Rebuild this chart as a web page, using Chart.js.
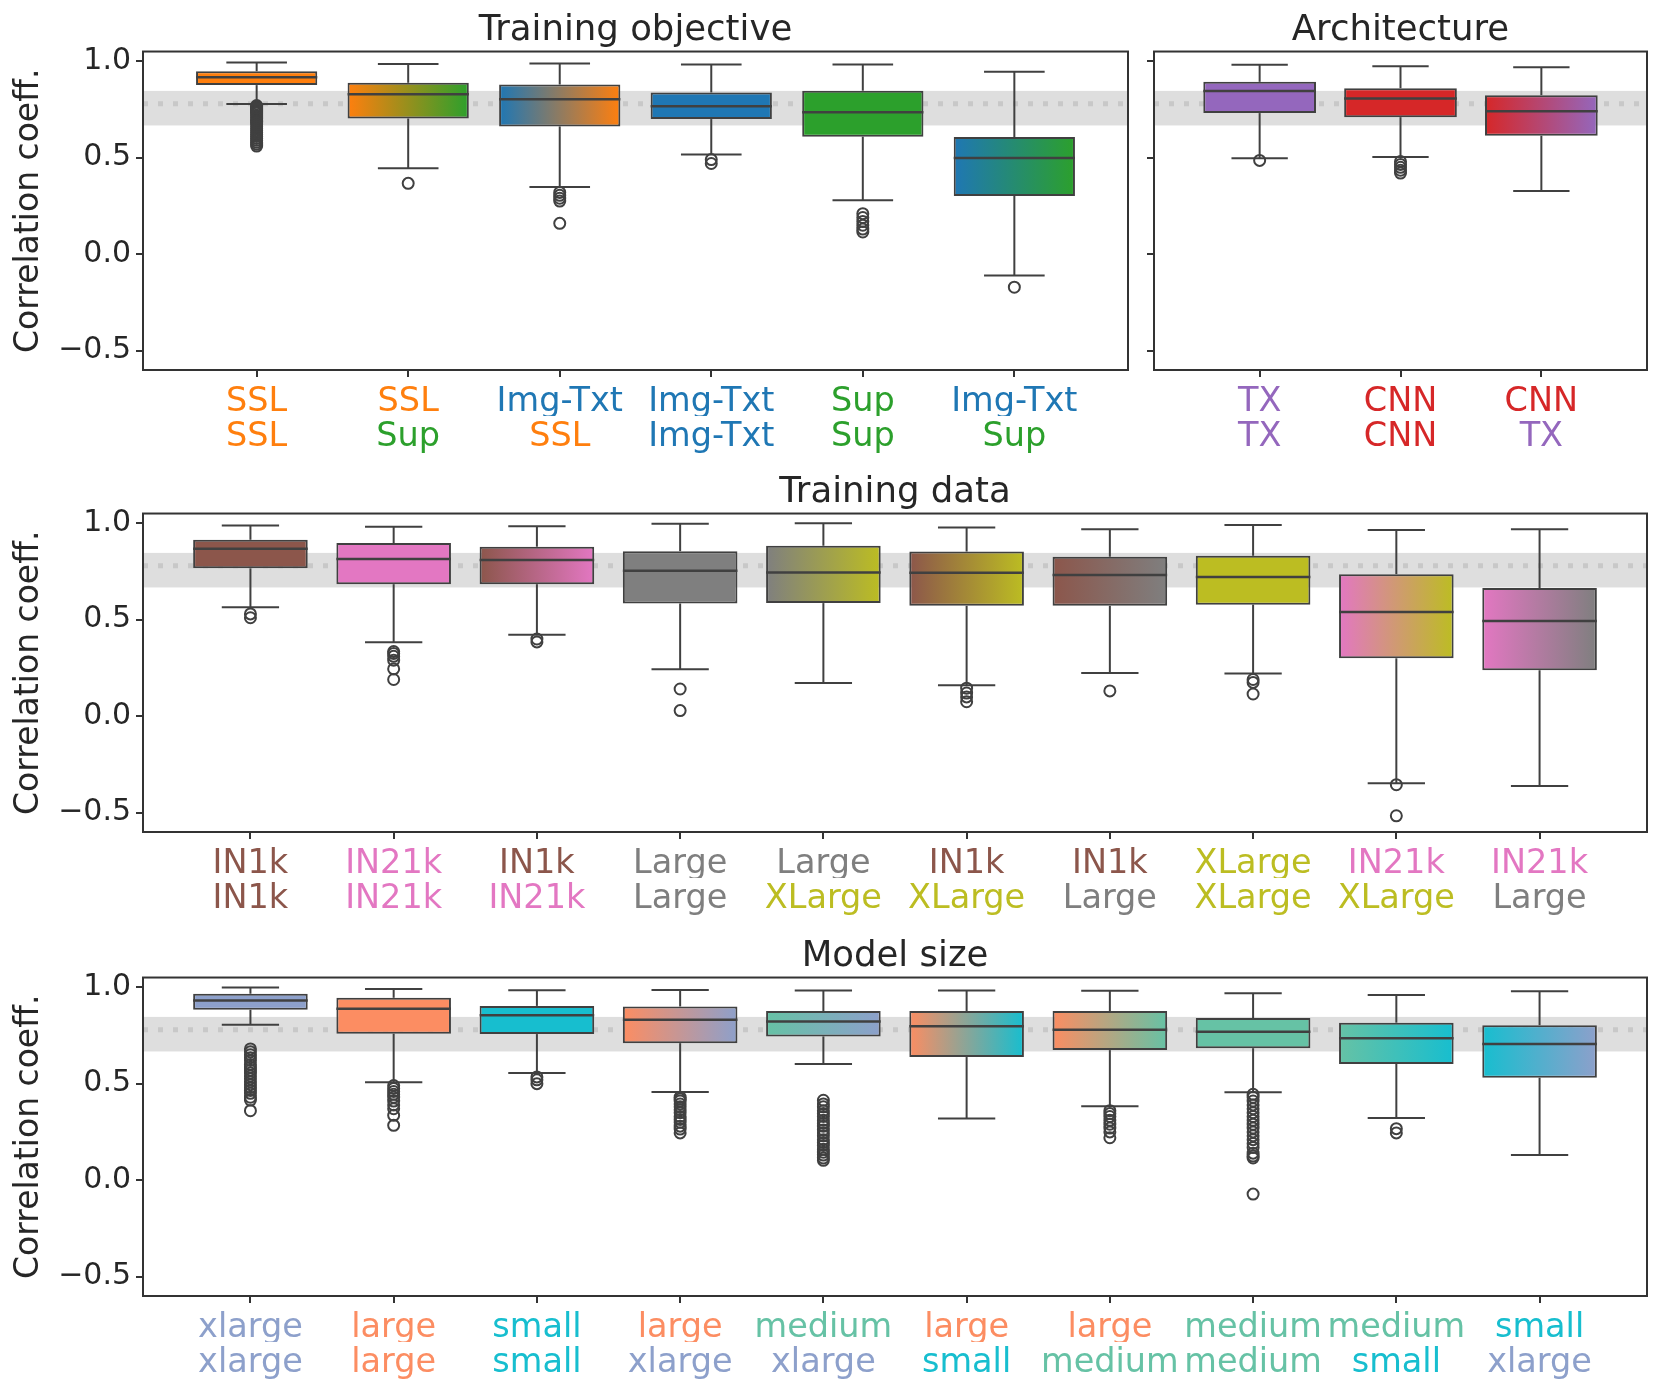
<!DOCTYPE html>
<html><head><meta charset="utf-8">
<script src="https://cdn.jsdelivr.net/npm/chart.js@4.4.1/dist/chart.umd.min.js"></script>
<style>
html,body{margin:0;padding:0;background:#fff;}
#wrap{position:relative;width:1661px;height:1393px;overflow:hidden;background:#fff;}
canvas{position:absolute;}
</style></head><body>
<div id="wrap">
<canvas id="cObj" width="1140" height="456" style="left:0px;top:0px;width:1140px;height:456px"></canvas>
<canvas id="cArch" width="525" height="456" style="left:1134px;top:0px;width:525px;height:456px"></canvas>
<canvas id="cData" width="1659" height="456" style="left:0px;top:462px;width:1659px;height:456px"></canvas>
<canvas id="cSize" width="1659" height="456" style="left:0px;top:926px;width:1659px;height:456px"></canvas>
</div>
<script>
// ---------- shared axis values ----------
const yTickValues = [-0.5, 0.0, 0.5, 1.0];
const yTickLabels = ['\u22120.5', '0.0', '0.5', '1.0'];
const yRange = [-0.6, 1.05];
const refBand = [0.667, 0.846];
const refLine = 0.779;

// ---------- Training objective ----------
const objLabelTop    = ['SSL', 'SSL', 'Img-Txt', 'Img-Txt', 'Sup', 'Img-Txt'];
const objLabelBottom = ['SSL', 'Sup', 'SSL', 'Img-Txt', 'Sup', 'Sup'];
const objWhiskerHigh = [0.993, 0.986, 0.988, 0.983, 0.983, 0.945];
const objQ3          = [0.948, 0.888, 0.879, 0.838, 0.847, 0.607];
const objMedian      = [0.917, 0.829, 0.803, 0.767, 0.736, 0.498];
const objQ1          = [0.876, 0.703, 0.662, 0.700, 0.609, 0.302];
const objWhiskerLow  = [0.778, 0.445, 0.348, 0.517, 0.279, -0.110];
const objOutliers = [
  [0.770, 0.765, 0.760, 0.755, 0.750, 0.745, 0.740, 0.735, 0.730, 0.720, 0.710, 0.700, 0.690, 0.685, 0.680, 0.670, 0.660, 0.650, 0.640, 0.630, 0.620, 0.610, 0.600, 0.590, 0.580, 0.570, 0.560],
  [0.367],
  [0.320, 0.305, 0.290, 0.275, 0.160],
  [0.490, 0.470],
  [0.210, 0.190, 0.170, 0.150, 0.130, 0.115],
  [-0.171]
];

// ---------- Architecture ----------
const archLabelTop    = ['TX', 'CNN', 'CNN'];
const archLabelBottom = ['TX', 'CNN', 'TX'];
const archWhiskerHigh = [0.981, 0.974, 0.969];
const archQ3          = [0.893, 0.860, 0.824];
const archMedian      = [0.845, 0.807, 0.740];
const archQ1          = [0.731, 0.710, 0.614];
const archWhiskerLow  = [0.497, 0.503, 0.328];
const archOutliers = [[0.486], [0.480, 0.465, 0.450, 0.435, 0.420], []];

// ---------- Training data ----------
const dataLabelTop    = ['IN1k', 'IN21k', 'IN1k', 'Large', 'Large', 'IN1k', 'IN1k', 'XLarge', 'IN21k', 'IN21k'];
const dataLabelBottom = ['IN1k', 'IN21k', 'IN21k', 'Large', 'XLarge', 'XLarge', 'Large', 'XLarge', 'XLarge', 'Large'];
const dataWhiskerHigh = [0.988, 0.981, 0.984, 0.997, 1.000, 0.978, 0.969, 0.991, 0.964, 0.969];
const dataQ3          = [0.914, 0.897, 0.878, 0.855, 0.883, 0.853, 0.826, 0.831, 0.736, 0.664];
const dataMedian      = [0.867, 0.814, 0.809, 0.753, 0.745, 0.743, 0.731, 0.721, 0.540, 0.493];
const dataQ1          = [0.766, 0.684, 0.684, 0.584, 0.586, 0.572, 0.572, 0.578, 0.300, 0.238];
const dataWhiskerLow  = [0.564, 0.383, 0.422, 0.243, 0.172, 0.160, 0.224, 0.221, -0.348, -0.362];
const dataOutliers = [
  [0.530, 0.510],
  [0.335, 0.325, 0.310, 0.290, 0.245, 0.190],
  [0.400, 0.385],
  [0.141, 0.029],
  [],
  [0.145, 0.120, 0.100, 0.075],
  [0.131],
  [0.190, 0.175, 0.115],
  [-0.355, -0.516],
  []
];

// ---------- Model size ----------
const sizeLabelTop    = ['xlarge', 'large', 'small', 'large', 'medium', 'large', 'large', 'medium', 'medium', 'small'];
const sizeLabelBottom = ['xlarge', 'large', 'small', 'xlarge', 'xlarge', 'small', 'medium', 'medium', 'small', 'xlarge'];
const sizeWhiskerHigh = [0.998, 0.991, 0.984, 0.986, 0.983, 0.983, 0.981, 0.969, 0.960, 0.979];
const sizeQ3          = [0.966, 0.945, 0.903, 0.900, 0.876, 0.876, 0.876, 0.840, 0.816, 0.803];
const sizeMedian      = [0.931, 0.888, 0.855, 0.831, 0.822, 0.797, 0.779, 0.769, 0.736, 0.705];
const sizeQ1          = [0.883, 0.759, 0.757, 0.710, 0.745, 0.638, 0.674, 0.684, 0.602, 0.531];
const sizeWhiskerLow  = [0.805, 0.507, 0.555, 0.457, 0.602, 0.319, 0.383, 0.455, 0.322, 0.131];
const sizeOutliers = [
  [0.680, 0.665, 0.650, 0.635, 0.620, 0.600, 0.585, 0.570, 0.555, 0.540, 0.525, 0.510, 0.495, 0.480, 0.465, 0.450, 0.430, 0.415, 0.360],
  [0.490, 0.475, 0.460, 0.445, 0.430, 0.410, 0.390, 0.370, 0.336, 0.284],
  [0.535, 0.520, 0.500],
  [0.430, 0.420, 0.410, 0.395, 0.380, 0.365, 0.350, 0.330, 0.315, 0.300, 0.280, 0.265, 0.245],
  [0.414, 0.395, 0.380, 0.360, 0.345, 0.330, 0.310, 0.295, 0.280, 0.260, 0.245, 0.230, 0.210, 0.195, 0.180, 0.160, 0.145, 0.130, 0.115, 0.103],
  [],
  [0.360, 0.345, 0.330, 0.310, 0.290, 0.270, 0.250, 0.220],
  [0.445, 0.430, 0.410, 0.390, 0.370, 0.350, 0.330, 0.310, 0.290, 0.270, 0.250, 0.230, 0.210, 0.190, 0.170, 0.140, 0.125, 0.115, -0.072],
  [0.267, 0.245],
  []
];

// ---------- styles ----------
const PALETTE = {
  'SSL': '#ff7f0e', 'Sup': '#2ca02c', 'Img-Txt': '#1f77b4',
  'TX': '#9467bd', 'CNN': '#d62728',
  'IN1k': '#8c564b', 'IN21k': '#e377c2', 'Large': '#7f7f7f', 'XLarge': '#bcbd22',
  'xlarge': '#8da0cb', 'large': '#fc8d62', 'small': '#17becf', 'medium': '#66c2a5'
};
const EDGE = '#404040';
const TEXT = '#262626';
const FRAME = '#333333';
Chart.defaults.font.family = "'DejaVu Sans', sans-serif";
Chart.defaults.color = TEXT;

function makePanel(canvasId, p) {
  const n = p.top.length;
  const idx = p.top.map((_, i) => i);
  const setXTicks = s => { s.ticks = idx.map(v => ({ value: v })); };
  const setYTicks = s => { s.ticks = yTickValues.map(v => ({ value: v })); };

  const boxData = idx.map(i => ({ x: i, y: [p.q1[i], p.q3[i]] }));
  const outData = [];
  p.out.forEach((arr, i) => arr.forEach(v => outData.push({ x: i, y: v })));

  const fill = (c) => {
    const i = c.dataIndex;
    if (c.type !== 'data' || i === undefined) return PALETTE[p.top[0]];
    const c1 = PALETTE[p.top[i]], c2 = PALETTE[p.bottom[i]];
    if (c1 === c2) return c1;
    const xs = c.chart.scales.x;
    if (!xs || !c.chart.chartArea) return c1;
    const cx = xs.getPixelForValue(i);
    const half = 0.4 * (xs.getPixelForValue(1) - xs.getPixelForValue(0));
    const g = c.chart.ctx.createLinearGradient(cx - half, 0, cx + half, 0);
    g.addColorStop(0, c1);
    g.addColorStop(1, c2);
    return g;
  };

  const line = (ctx, x1, y1, x2, y2) => { ctx.beginPath(); ctx.moveTo(x1, y1); ctx.lineTo(x2, y2); ctx.stroke(); };

  const decor = {
    id: 'decor',
    beforeDatasetsDraw(chart) {
      const { ctx, chartArea: a } = chart;
      const ys = chart.scales.y;
      ctx.save();
      ctx.fillStyle = '#dedede';
      const yt = ys.getPixelForValue(refBand[1]), yb = ys.getPixelForValue(refBand[0]);
      ctx.fillRect(a.left, yt, a.right - a.left, yb - yt);
      ctx.strokeStyle = '#c8c8c8';
      ctx.lineWidth = 5;
      ctx.setLineDash([5, 10]);
      const yr = ys.getPixelForValue(refLine);
      line(ctx, a.left, yr, a.right, yr);
      ctx.restore();
    },
    afterDatasetsDraw(chart) {
      const { ctx } = chart;
      const xs = chart.scales.x, ys = chart.scales.y;
      const unit = xs.getPixelForValue(1) - xs.getPixelForValue(0);
      ctx.save();
      ctx.strokeStyle = EDGE;
      ctx.lineCap = 'butt';
      for (let i = 0; i < n; i++) {
        const cx = xs.getPixelForValue(i);
        const yHi = ys.getPixelForValue(p.hi[i]), yLo = ys.getPixelForValue(p.lo[i]);
        const yQ3 = ys.getPixelForValue(p.q3[i]), yQ1 = ys.getPixelForValue(p.q1[i]);
        const yMed = ys.getPixelForValue(p.med[i]);
        ctx.lineWidth = 2;
        line(ctx, cx, yQ3, cx, yHi);
        line(ctx, cx, yQ1, cx, yLo);
        line(ctx, cx - 0.2 * unit, yHi, cx + 0.2 * unit, yHi);
        line(ctx, cx - 0.2 * unit, yLo, cx + 0.2 * unit, yLo);
        ctx.lineWidth = 2.5;
        line(ctx, cx - 0.4 * unit, yMed, cx + 0.4 * unit, yMed);
      }
      ctx.restore();
    },
    afterDraw(chart) {
      const { ctx, chartArea: a } = chart;
      ctx.save();
      ctx.strokeStyle = FRAME;
      ctx.lineWidth = 2;
      ctx.strokeRect(a.left, a.top, a.right - a.left, a.bottom - a.top);
      ctx.restore();
    }
  };

  const xCommon = {
    type: 'linear', position: 'bottom', min: -0.75, max: n - 0.25, offset: false,
    afterBuildTicks: setXTicks,
    border: { display: false }
  };

  new Chart(document.getElementById(canvasId), {
    type: 'bar',
    data: {
      datasets: [
        {
          type: 'bar', data: boxData,
          backgroundColor: fill, borderColor: EDGE, borderWidth: 2, borderSkipped: false,
          categoryPercentage: 1.0, barPercentage: 0.8, order: 1
        },
        {
          type: 'scatter', data: outData,
          pointStyle: 'circle', pointRadius: 5.5, pointBorderWidth: 2,
          pointBorderColor: EDGE, pointBackgroundColor: 'rgba(0,0,0,0)', order: 0
        }
      ]
    },
    options: {
      responsive: false, animation: false, devicePixelRatio: 1, events: [],
      layout: { padding: { left: 0, right: 12, top: 0, bottom: 0 } },
      plugins: {
        legend: { display: false }, tooltip: { enabled: false },
        title: {
          display: true, text: p.title, fullSize: false, color: TEXT,
          font: { size: 35.5, weight: 'normal', lineHeight: 1.15 },
          padding: { top: 10.5, bottom: 0.2 }
        }
      },
      scales: {
        x: Object.assign({}, xCommon, {
          weight: 0,
          afterFit: s => { s.height = 46; },
          grid: { display: true, offset: false, drawOnChartArea: false, drawTicks: true, tickLength: 7, color: FRAME, lineWidth: 2 },
          ticks: {
            autoSkip: false, maxRotation: 0, minRotation: 0, padding: 6,
            font: { size: 33.5, lineHeight: 1.15 },
            color: c => PALETTE[p.top[c.index]],
            callback: (v) => p.top[v]
          }
        }),
        x2: Object.assign({}, xCommon, {
          weight: 1,
          afterFit: s => { s.height = 40; },
          grid: { display: false, offset: false, drawOnChartArea: false, drawTicks: false },
          ticks: {
            autoSkip: false, maxRotation: 0, minRotation: 0, padding: 2,
            font: { size: 33.5, lineHeight: 1.15 },
            color: c => PALETTE[p.bottom[c.index]],
            callback: (v) => p.bottom[v]
          }
        }),
        y: {
          type: 'linear', position: 'left', min: yRange[0], max: yRange[1],
          afterBuildTicks: setYTicks,
          afterFit: s => { s.width = p.yWidth; },
          border: { display: false },
          grid: { display: true, drawOnChartArea: false, drawTicks: true, tickLength: 7, color: FRAME, lineWidth: 2 },
          ticks: {
            display: p.showY, padding: 5, color: TEXT,
            font: { size: 30, lineHeight: 1.2 },
            callback: (v, i) => yTickLabels[i]
          },
          title: {
            display: p.showY, text: 'Correlation coeff.', color: TEXT,
            font: { size: 33, lineHeight: 1.16 }, padding: { top: 10, bottom: 0 }
          }
        }
      }
    },
    plugins: [decor]
  });
}

makePanel('cObj', {
  title: 'Training objective', top: objLabelTop, bottom: objLabelBottom,
  lo: objWhiskerLow, q1: objQ1, med: objMedian, q3: objQ3, hi: objWhiskerHigh, out: objOutliers,
  showY: true, yWidth: 143
});
makePanel('cArch', {
  title: 'Architecture', top: archLabelTop, bottom: archLabelBottom,
  lo: archWhiskerLow, q1: archQ1, med: archMedian, q3: archQ3, hi: archWhiskerHigh, out: archOutliers,
  showY: false, yWidth: 20
});
makePanel('cData', {
  title: 'Training data', top: dataLabelTop, bottom: dataLabelBottom,
  lo: dataWhiskerLow, q1: dataQ1, med: dataMedian, q3: dataQ3, hi: dataWhiskerHigh, out: dataOutliers,
  showY: true, yWidth: 143
});
makePanel('cSize', {
  title: 'Model size', top: sizeLabelTop, bottom: sizeLabelBottom,
  lo: sizeWhiskerLow, q1: sizeQ1, med: sizeMedian, q3: sizeQ3, hi: sizeWhiskerHigh, out: sizeOutliers,
  showY: true, yWidth: 143
});
</script>
</body></html>
